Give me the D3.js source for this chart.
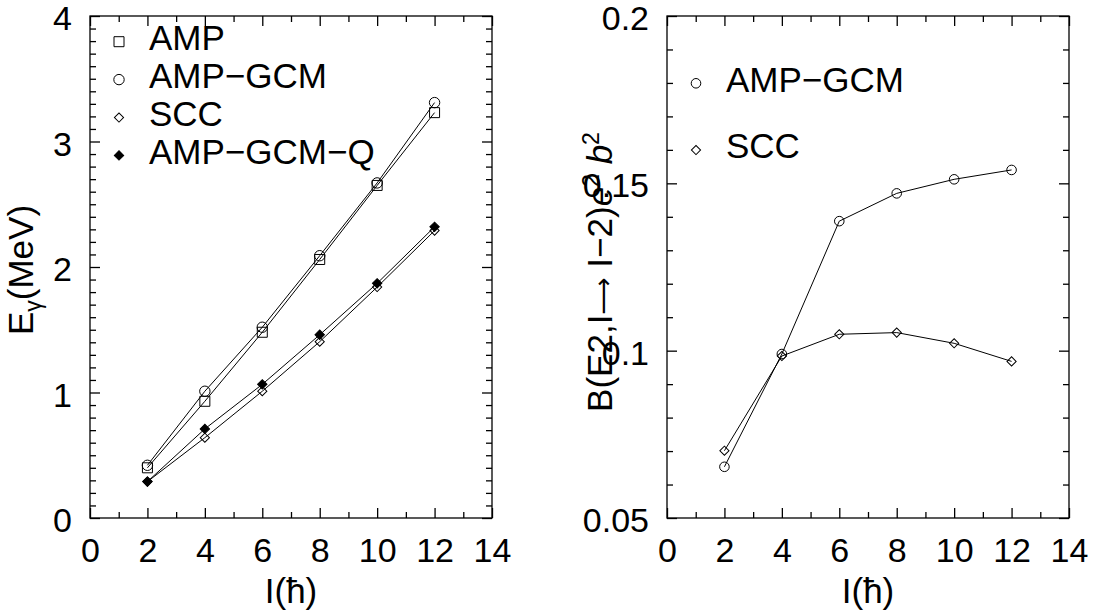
<!DOCTYPE html>
<html>
<head>
<meta charset="utf-8">
<title>E gamma and B(E2) versus spin</title>
<script src="https://d3js.org/d3.v7.min.js"></script>
<style>
body {
	margin: 0;
	background-color: white;
}
svg {
	display: block;
	font-family: "Liberation Sans", Arial, sans-serif;
}
.frame {
	fill: none;
	stroke: black;
	stroke-width: 1.3;
}
.axis path.domain {
	display: none;
}
.axis line {
	stroke: black;
	stroke-width: 1.3;
}
.axis text {
	font-family: "Liberation Sans", Arial, sans-serif;
	font-size: 34px;
	fill: black;
}
.line {
	fill: none;
	stroke: black;
	stroke-width: 1;
}
.mark {
	fill: none;
	stroke: black;
	stroke-width: 1;
}
.mark.filled {
	fill: black;
}
.title, .legend text {
	font-size: 35px;
	fill: black;
}
</style>
</head>
<body>
<div id="chart"></div>
<script>
/* globals d3 */
(function() {
"use strict";

// spin values I (hbar)
const spins = [2, 4, 6, 8, 10, 12];
const xTicks = [0, 2, 4, 6, 8, 10, 12, 14];
const eTicks = [0, 1, 2, 3, 4];
const bTicks = [0.05, 0.1, 0.15, 0.2];

// left panel: E_gamma (MeV)
const eAMP = [0.40, 0.93, 1.48, 2.06, 2.65, 3.23];
const eAMPGCM = [0.42, 1.01, 1.52, 2.09, 2.67, 3.31];
const eSCC = [0.29, 0.64, 1.01, 1.405, 1.84, 2.29];
const eAMPGCMQ = [0.29, 0.71, 1.065, 1.46, 1.87, 2.32];

// right panel: B(E2, I -> I-2) e^2 b^2
const bAMPGCM = [0.0653, 0.0990, 0.1387, 0.1470, 0.1512, 0.1540];
const bSCC = [0.0701, 0.0984, 0.1049, 0.1054, 0.1022, 0.0968];

const W = 1094, H = 615;

function shapePath(shape, size)
{
	if (shape === "circle")
		return d3.symbol(d3.symbolCircle, size)();
	return d3.symbol(d3.symbolSquare, size)();
}

function addMark(g, x, y, st)
{
	g.append("path")
		.attr("class", st.filled ? "mark filled" : "mark")
		.attr("d", shapePath(st.shape, st.size))
		.attr("transform", "translate(" + x + "," + y + ")" +
			(st.shape === "diamond" ? " rotate(45)" : ""));
}

function range(a, b, step)
{
	const out = [];
	for (let v = a; v <= b + step / 2; v += step)
		out.push(+v.toFixed(4));
	return out;
}

function drawPanel(svg, box, opt)
{
	const x = d3.scaleLinear([0, 14], [box.x0, box.x1]);
	const y = d3.scaleLinear(opt.yDomain, [box.y1, box.y0]);

	const xMinor = range(0, 14, 1).filter(v => xTicks.indexOf(v) < 0);
	const yMinor = range(opt.yDomain[0], opt.yDomain[1], opt.yMinorStep)
		.filter(v => !opt.yTicks.some(t => Math.abs(t - v) < 1e-6));

	const axes = [
		// labelled bottom / left
		{ax: d3.axisBottom(x).tickValues(xTicks).tickSize(-10).tickPadding(20), t: [0, box.y1]},
		{ax: d3.axisLeft(y).tickValues(opt.yTicks).tickFormat(opt.yFormat).tickSize(-10).tickPadding(18), t: [box.x0, 0], left: true},
		// unlabelled top / right
		{ax: d3.axisTop(x).tickValues(xTicks).tickSize(-10).tickFormat(""), t: [0, box.y0]},
		{ax: d3.axisRight(y).tickValues(opt.yTicks).tickSize(-10).tickFormat(""), t: [box.x1, 0]},
		// minor ticks
		{ax: d3.axisBottom(x).tickValues(xMinor).tickSize(-6).tickFormat(""), t: [0, box.y1]},
		{ax: d3.axisTop(x).tickValues(xMinor).tickSize(-6).tickFormat(""), t: [0, box.y0]},
		{ax: d3.axisLeft(y).tickValues(yMinor).tickSize(-6).tickFormat(""), t: [box.x0, 0]},
		{ax: d3.axisRight(y).tickValues(yMinor).tickSize(-6).tickFormat(""), t: [box.x1, 0]},
	];
	for (const a of axes) {
		const g = svg.append("g")
			.attr("class", "axis")
			.attr("transform", "translate(" + a.t[0] + "," + a.t[1] + ")")
			.call(a.ax);
		g.attr("font-size", null).attr("font-family", null);
		if (a.left)
			g.selectAll("text").attr("dy", "0.4em");
	}

	svg.append("rect")
		.attr("class", "frame")
		.attr("x", box.x0)
		.attr("y", box.y0)
		.attr("width", box.x1 - box.x0)
		.attr("height", box.y1 - box.y0);

	const line = d3.line()
		.x((d, i) => x(spins[i]))
		.y(d => y(d));

	for (const s of opt.series) {
		svg.append("path")
			.attr("class", "line")
			.attr("d", line(s.values));
		const g = svg.append("g");
		s.values.forEach((v, i) => addMark(g, x(spins[i]), y(v), s));
	}

	// legend
	const lg = svg.append("g").attr("class", "legend");
	opt.series.forEach((s, i) => {
		const cy = opt.legend.y + i * opt.legend.step;
		addMark(lg, box.x0 + 29, cy, s);
		lg.append("text")
			.attr("x", box.x0 + 59)
			.attr("y", cy + 8.3)
			.text(s.name);
	});

	// x title
	svg.append("text")
		.attr("class", "title")
		.attr("x", (box.x0 + box.x1) / 2)
		.attr("y", 603)
		.attr("text-anchor", "middle")
		.text("I(\u0127)");

	return {x, y};
}

function main()
{
	const svg = d3.select("#chart")
		.append("svg")
			.attr("width", W)
			.attr("height", H);

	const left = {x0: 90, x1: 492, y0: 16, y1: 518};
	const right = {x0: 667, x1: 1069, y0: 16, y1: 518};

	drawPanel(svg, left, {
		yDomain: [0, 4],
		yTicks: eTicks,
		yMinorStep: 0.1,
		yFormat: d3.format("d"),
		legend: {y: 41.7, step: 37.9},
		series: [
			{name: "AMP", values: eAMP, shape: "square", size: 100},
			{name: "AMP\u2212GCM", values: eAMPGCM, shape: "circle", size: 85},
			{name: "SCC", values: eSCC, shape: "diamond", size: 42},
			{name: "AMP\u2212GCM\u2212Q", values: eAMPGCMQ, shape: "diamond", size: 44, filled: true},
		],
	});

	drawPanel(svg, right, {
		yDomain: [0.05, 0.2],
		yTicks: bTicks,
		yMinorStep: 0.01,
		yFormat: d => d3.format("")(+d.toFixed(2)),
		legend: {y: 83.3, step: 66.7},
		series: [
			{name: "AMP\u2212GCM", values: bAMPGCM, shape: "circle", size: 72},
			{name: "SCC", values: bSCC, shape: "diamond", size: 42},
		],
	});

	// left y title
	const t1 = svg.append("text")
		.attr("class", "title")
		.attr("text-anchor", "middle")
		.attr("font-size", "33px")
		.attr("transform", "translate(33,270) rotate(-90)");
	t1.append("tspan").text("E");
	t1.append("tspan").attr("font-size", "23px").attr("dy", 8).text("\u03b3");
	t1.append("tspan").attr("dy", -8).text("(MeV)");

	// right y title
	const t2 = svg.append("text")
		.attr("class", "title")
		.attr("text-anchor", "middle")
		.attr("font-size", "33px")
		.attr("transform", "translate(612,272) rotate(-90)");
	t2.append("tspan").text("B(E2,I");
	t2.append("tspan").attr("font-family", "DejaVu Sans").attr("font-size", "26px").text("\u27f6");
	t2.append("tspan").text(" I\u22122)");
	t2.append("tspan").attr("font-style", "italic").text("e");
	t2.append("tspan").attr("font-size", "23px").attr("dy", -13).text("2");
	t2.append("tspan").attr("dy", 13).text(" ");
	t2.append("tspan").attr("font-style", "italic").text("b");
	t2.append("tspan").attr("font-size", "23px").attr("dy", -13).text("2");
}
window.addEventListener("DOMContentLoaded", main);
})();
</script>
</body>
</html>
